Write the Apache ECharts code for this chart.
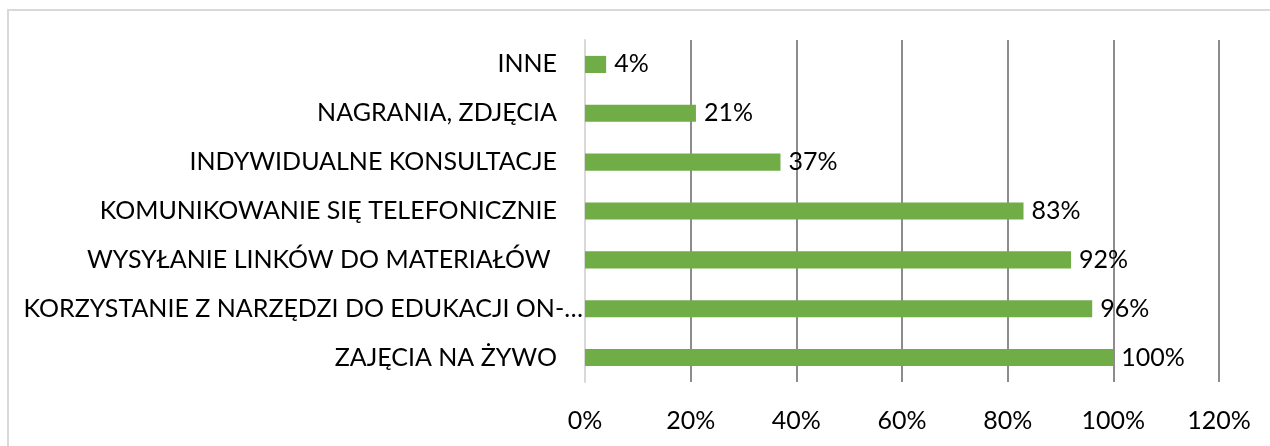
<!DOCTYPE html>
<html>
<head>
<meta charset="utf-8">
<script src="https://cdn.jsdelivr.net/npm/echarts@6/dist/echarts.min.js"></script>
<style>
html,body{margin:0;padding:0;background:#fff;}
#frame{position:absolute;left:7px;top:9px;width:1300px;height:500px;border:2px solid #d9d9d9;box-sizing:border-box;}
#chart{position:absolute;left:0;top:0;width:1270px;height:446px;}
</style>
</head>
<body>
<div id="frame"></div>
<div id="chart"></div>
<script>
const categories = [
  "ZAJĘCIA NA ŻYWO",
  "KORZYSTANIE Z NARZĘDZI DO EDUKACJI ON-…",
  "WYSYŁANIE LINKÓW DO MATERIAŁÓW ",
  "KOMUNIKOWANIE SIĘ TELEFONICZNIE",
  "INDYWIDUALNE KONSULTACJE",
  "NAGRANIA, ZDJĘCIA",
  "INNE"
];
const values = [100, 96, 92, 83, 37, 21, 4];
const xTicks = [0, 20, 40, 60, 80, 100, 120];

const FONT = "Lato";
const FS = 25;
// the truncated label sits closer to the axis, as in the reference
const yData = categories.map((c, i) => i === 1
  ? {value: c, textStyle: {padding: [0, 0, 0, 0]}}
  : c);

const chart = echarts.init(document.getElementById('chart'), null, {renderer: 'canvas'});
chart.setOption({
  animation: false,
  backgroundColor: 'transparent',
  grid: {left: 585, right: 51, top: 40, height: 342, containLabel: false},
  xAxis: {
    type: 'value',
    min: xTicks[0],
    max: xTicks[xTicks.length - 1],
    interval: xTicks[1] - xTicks[0],
    axisLine: {show: false},
    axisTick: {show: false},
    axisLabel: {formatter: v => v + '%', fontFamily: FONT, fontSize: FS, color: '#000', margin: 26},
    splitLine: {show: true, lineStyle: {color: '#8c8c8c', width: 2}}
  },
  yAxis: {
    type: 'category',
    data: yData,
    axisLine: {show: true, lineStyle: {color: '#d9d9d9', width: 2}},
    axisTick: {show: false},
    axisLabel: {fontFamily: FONT, fontSize: FS, color: '#000', margin: 2, padding: [0, 26, 0, 0]}
  },
  series: [{
    type: 'bar',
    data: values,
    barCategoryGap: '65%',
    itemStyle: {color: '#70ad47'},
    label: {show: true, position: 'right', distance: 8, formatter: p => p.value + '%', fontFamily: FONT, fontSize: FS, color: '#000', padding: [4, 0, 0, 0]}
  }]
});
</script>
</body>
</html>
